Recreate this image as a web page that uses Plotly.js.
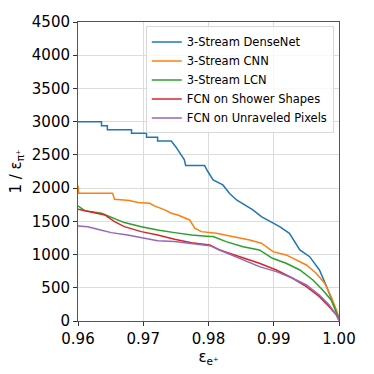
<!DOCTYPE html>
<html>
<head>
<meta charset="utf-8">
<script src="https://cdn.plot.ly/plotly-3.0.1.min.js"></script>
<style>
    html, body { margin: 0; padding: 0; background: #fff; }
    #plot { width: 374px; height: 374px; }
</style>
</head>
<body>
<div id="plot"></div>
<script>
// values (signal efficiency vs background rejection)
var names = ["3-Stream DenseNet", "3-Stream CNN", "3-Stream LCN",
    "FCN on Shower Shapes", "FCN on Unraveled Pixels"];
var colors = ["#1f77b4", "#ff7f0e", "#2ca02c", "#d62728", "#9467bd"];

var denseX = [0.960, 0.9636, 0.9636, 0.9645, 0.9645, 0.9682, 0.9682, 0.9705, 0.9705, 0.9722, 0.9722,
    0.9743, 0.9750, 0.9763, 0.9765, 0.9794, 0.9799, 0.9807, 0.9822, 0.9832, 0.9843, 0.9855, 0.9868,
    0.9881, 0.9894, 0.9909, 0.9924, 0.9940, 0.9955, 0.9970, 0.9981, 0.9991, 0.9998, 1.000];
var denseY = [3000, 3000, 2940, 2940, 2880, 2880, 2827, 2827, 2767, 2767, 2710,
    2710, 2620, 2425, 2340, 2340, 2250, 2124, 2048, 1923, 1822, 1747, 1672,
    1570, 1495, 1420, 1320, 1069, 968, 768, 517, 266, 65, 45];

var cnnX = [0.960, 0.9601, 0.9653, 0.9656, 0.9679, 0.9692, 0.9710, 0.9717, 0.9733, 0.9743, 0.9753,
    0.9771, 0.9779, 0.9789, 0.9812, 0.9837, 0.9863, 0.9881, 0.9899, 0.9919, 0.9935, 0.9950,
    0.9965, 0.9978, 0.9988, 0.9996, 1.000];
var cnnY = [2040, 1923, 1923, 1833, 1812, 1782, 1772, 1732, 1672, 1622, 1596,
    1521, 1396, 1345, 1320, 1270, 1220, 1170, 1044, 994, 919, 843,
    718, 568, 366, 166, 30];

var lcnX = [0.960, 0.9610, 0.9636, 0.9651, 0.9671, 0.9697, 0.9722, 0.9748, 0.9774, 0.9802, 0.9807,
    0.9827, 0.9853, 0.9878, 0.9898, 0.9919, 0.9940, 0.9960, 0.9975, 0.9988, 0.9996, 1.000];
var lcnY = [1732, 1661, 1622, 1561, 1481, 1420, 1370, 1330, 1295, 1270, 1270,
    1195, 1119, 1069, 944, 869, 768, 617, 467, 316, 140, 25];

var showerX = [0.960, 0.9625, 0.9641, 0.9656, 0.9671, 0.9697, 0.9722, 0.9748, 0.9774, 0.9802,
    0.9817, 0.9848, 0.9878, 0.9904, 0.9929, 0.9950, 0.9970, 0.9985, 0.9996, 1.000];
var showerY = [1682, 1631, 1596, 1495, 1420, 1345, 1295, 1230, 1179, 1145,
    1069, 968, 869, 768, 643, 517, 366, 215, 90, 10];

var pixelX = [0.960, 0.9615, 0.9630, 0.9651, 0.9676, 0.9702, 0.9722, 0.9748, 0.9774, 0.9802,
    0.9817, 0.9848, 0.9878, 0.9904, 0.9929, 0.9950, 0.9970, 0.9985, 0.9996, 1.000];
var pixelY = [1431, 1420, 1381, 1330, 1295, 1245, 1209, 1195, 1170, 1134,
    1069, 944, 818, 743, 643, 542, 392, 241, 90, 10];

var xs = [denseX, cnnX, lcnX, showerX, pixelX];
var ys = [denseY, cnnY, lcnY, showerY, pixelY];

var traces = xs.map(function (x, i) {
    return {
        x: x,
        y: ys[i],
        name: names[i],
        type: 'scatter',
        mode: 'lines',
        line: {color: colors[i], width: 1.5}
    };
});

var axisFont = {family: "DejaVu Sans", size: 15, color: "#000"};

var layout = {
    width: 374,
    height: 374,
    margin: {l: 78, r: 35, t: 22, b: 53, pad: 0},
    paper_bgcolor: "#fff",
    plot_bgcolor: "#fff",
    showlegend: true,
    font: {family: "DejaVu Sans", color: "#000"},
    xaxis: {
        range: [0.96, 1.0],
        dtick: 0.01,
        tick0: 0.96,
        tickformat: ".2f",
        ticks: "outside",
        ticklen: 4,
        tickcolor: "#333",
        tickfont: axisFont,
        showgrid: true,
        gridcolor: "#dcdcdc",
        zeroline: false,
        showline: true,
        linecolor: "#555",
        mirror: true,
        title: {text: "ε<sub>e⁺</sub>", font: axisFont, standoff: 4}
    },
    yaxis: {
        range: [0, 4500],
        dtick: 500,
        ticks: "outside",
        ticklen: 4,
        tickcolor: "#333",
        tickfont: axisFont,
        showgrid: true,
        gridcolor: "#dcdcdc",
        zeroline: false,
        showline: true,
        linecolor: "#555",
        mirror: true,
        title: {text: "1 / ε<sub>π⁺</sub>", font: axisFont, standoff: 6}
    },
    legend: {
        x: 0.98,
        y: 0.985,
        xanchor: "right",
        yanchor: "top",
        bgcolor: "rgba(255,255,255,0.8)",
        bordercolor: "#d8d8d8",
        borderwidth: 1,
        font: {family: "DejaVu Sans", size: 11.5, color: "#000"},
        tracegroupgap: 0
    }
};

Plotly.newPlot(document.getElementById("plot"), traces, layout, {staticPlot: true, displayModeBar: false});
</script>
</body>
</html>
